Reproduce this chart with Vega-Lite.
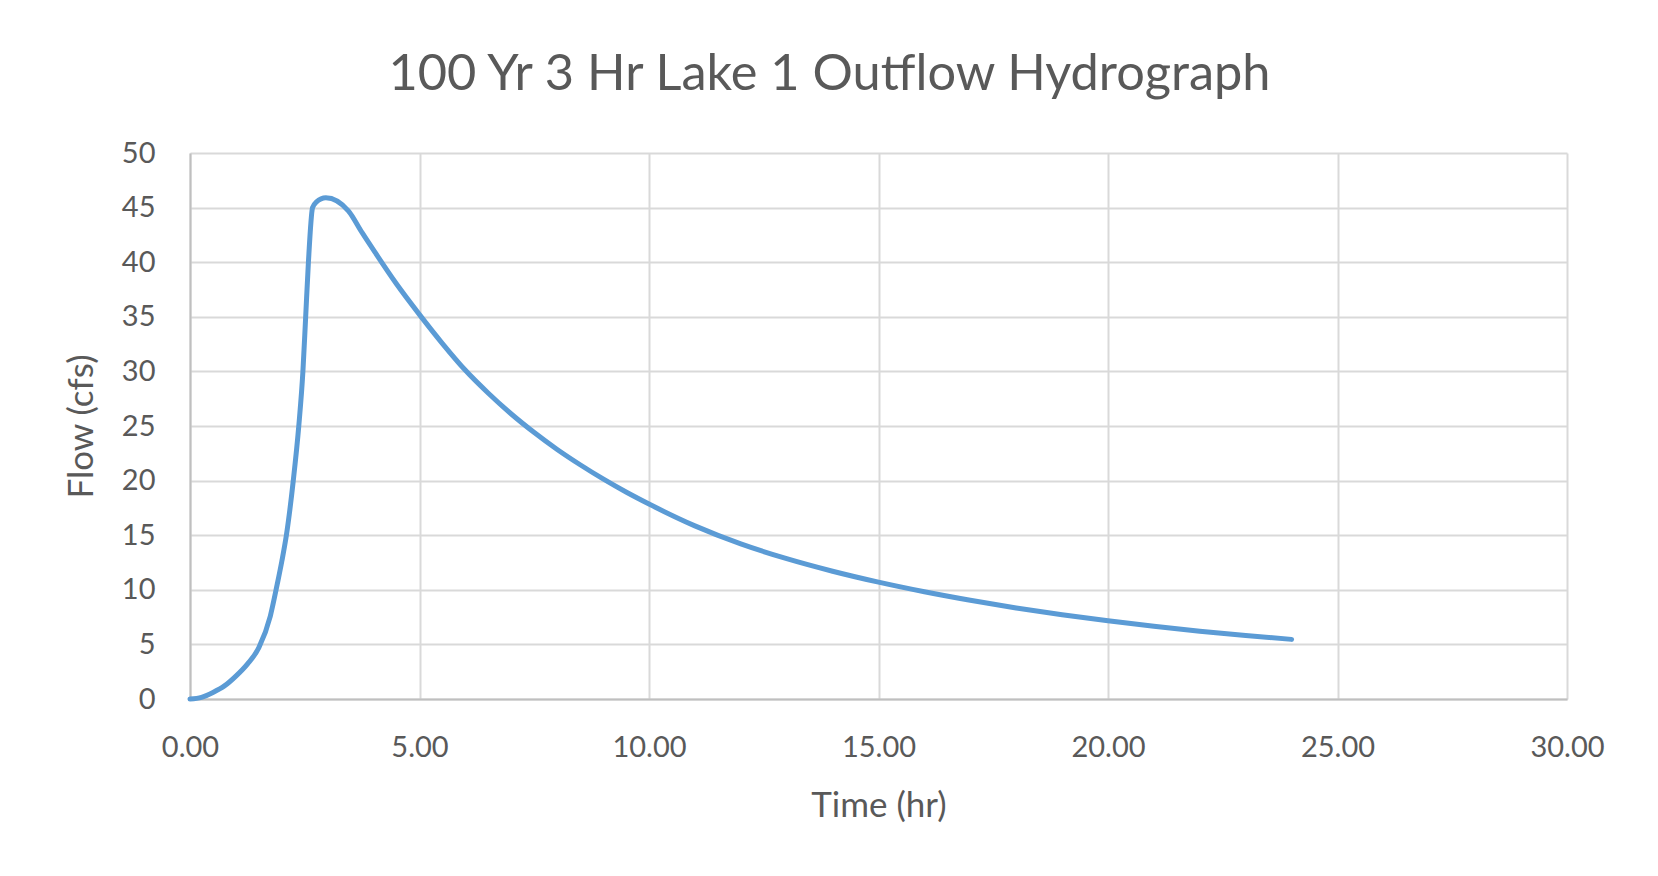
{
  "$schema": "https://vega.github.io/schema/vega-lite/v6.json",
  "width": 1377,
  "height": 546,
  "autosize": {"type": "none"},
  "padding": {"left": 190, "top": 153, "right": 91, "bottom": 177},
  "background": "white",
  "title": {
    "text": "100 Yr 3 Hr Lake 1 Outflow Hydrograph",
    "font": "Lato",
    "fontSize": 50.5,
    "fontWeight": "normal",
    "color": "#595959",
    "anchor": "middle",
    "frame": "group",
    "dx": -49,
    "offset": 39
  },
  "config": {
    "view": {"stroke": null},
    "axis": {
      "labelFont": "Lato",
      "titleFont": "Lato",
      "labelColor": "#595959",
      "titleColor": "#595959",
      "labelFontSize": 29,
      "titleFontSize": 35,
      "titleFontWeight": "normal",
      "gridColor": "#D9D9D9",
      "gridWidth": 2,
      "domainColor": "#BFBFBF",
      "domainWidth": 2,
      "ticks": false,
      "labelFlush": false
    }
  },
  "data": {
    "values": [
      {"time": 0.0, "flow": 0.0},
      {"time": 0.25, "flow": 0.15},
      {"time": 0.5, "flow": 0.6},
      {"time": 0.75, "flow": 1.2},
      {"time": 1.0, "flow": 2.1},
      {"time": 1.25, "flow": 3.2},
      {"time": 1.5, "flow": 4.7},
      {"time": 1.75, "flow": 7.6},
      {"time": 1.9, "flow": 10.5},
      {"time": 2.0, "flow": 12.6},
      {"time": 2.1, "flow": 15.0},
      {"time": 2.25, "flow": 20.0},
      {"time": 2.37, "flow": 25.0},
      {"time": 2.46, "flow": 30.0},
      {"time": 2.52, "flow": 35.0},
      {"time": 2.58, "flow": 40.0},
      {"time": 2.67, "flow": 45.0},
      {"time": 2.75, "flow": 45.5},
      {"time": 2.96, "flow": 45.9},
      {"time": 3.45, "flow": 44.7},
      {"time": 3.75, "flow": 42.7},
      {"time": 4.0, "flow": 41.1},
      {"time": 4.5, "flow": 38.0},
      {"time": 5.0, "flow": 35.2},
      {"time": 5.5, "flow": 32.55},
      {"time": 6.0, "flow": 30.1},
      {"time": 6.5, "flow": 28.0},
      {"time": 7.0, "flow": 26.1},
      {"time": 7.5, "flow": 24.4},
      {"time": 8.0, "flow": 22.85},
      {"time": 8.5, "flow": 21.45},
      {"time": 9.0, "flow": 20.15},
      {"time": 9.5, "flow": 18.95},
      {"time": 10.0, "flow": 17.85},
      {"time": 11.0, "flow": 15.85},
      {"time": 12.0, "flow": 14.2},
      {"time": 13.0, "flow": 12.85},
      {"time": 14.0, "flow": 11.7},
      {"time": 15.0, "flow": 10.7},
      {"time": 16.0, "flow": 9.82},
      {"time": 17.0, "flow": 9.04},
      {"time": 18.0, "flow": 8.34},
      {"time": 19.0, "flow": 7.72},
      {"time": 20.0, "flow": 7.16},
      {"time": 21.0, "flow": 6.66},
      {"time": 22.0, "flow": 6.21},
      {"time": 23.0, "flow": 5.81},
      {"time": 24.0, "flow": 5.46}
    ]
  },
  "mark": {"type": "line", "color": "#5B9BD5", "strokeWidth": 5, "interpolate": "monotone", "strokeCap": "round", "strokeJoin": "round"},
  "encoding": {
    "x": {
      "field": "time",
      "type": "quantitative",
      "scale": {"domain": [0, 30], "nice": false},
      "axis": {"values": [0, 5, 10, 15, 20, 25, 30], "format": ".2f", "title": "Time (hr)", "labelPadding": 34, "titlePadding": 26}
    },
    "y": {
      "field": "flow",
      "type": "quantitative",
      "scale": {"domain": [0, 50], "nice": false},
      "axis": {"values": [0, 5, 10, 15, 20, 25, 30, 35, 40, 45, 50], "title": "Flow (cfs)", "labelPadding": 35, "titlePadding": 22}
    }
  }
}
